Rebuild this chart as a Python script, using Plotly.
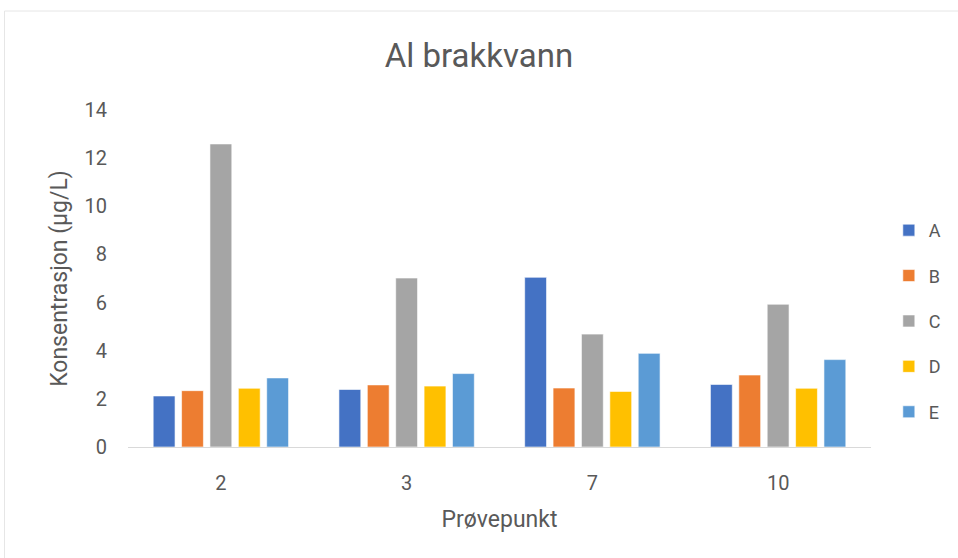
import plotly.graph_objects as go

categories = ["2", "3", "7", "10"]
series_names = ["A", "B", "C", "D", "E"]
A = [2.12, 2.39, 7.05, 2.60]
B = [2.34, 2.58, 2.45, 2.99]
C = [12.59, 7.02, 4.69, 5.93]
D = [2.44, 2.53, 2.31, 2.44]
E = [2.87, 3.05, 3.89, 3.63]
colors = ["#4472C4", "#ED7D31", "#A5A5A5", "#FFC000", "#5B9BD5"]
yticks = [0, 2, 4, 6, 8, 10, 12, 14]

font = "Roboto, Liberation Sans, sans-serif"
fig = go.Figure()
for name, vals, col in zip(series_names, [A, B, C, D, E], colors):
    fig.add_trace(go.Bar(x=categories, y=vals, name=name, legendgroup=name,
                         marker=dict(color=col, line=dict(color="rgba(255,255,255,0.6)", width=1))))

W, H = 958, 558
l, r, t, b = 128, W - 874, 110, H - 447
fig.update_layout(
    width=W, height=H,
    margin=dict(l=l, r=r, t=t, b=b),
    paper_bgcolor="white", plot_bgcolor="white",
    barmode="group", bargap=0.236, bargroupgap=0.23,
    title=dict(text="Al brakkvann", x=0.5, xanchor="center", y=1 - 55 / H, yanchor="middle",
               font=dict(family=font, size=33, color="#595959")),
    font=dict(family=font, color="#595959"),
    xaxis=dict(showline=True, linecolor="#D9D9D9", linewidth=1, showgrid=False,
               tickfont=dict(size=20, color="#595959"), ticks="", ticklabelstandoff=18,
               title=dict(text="Prøvepunkt", font=dict(size=23, color="#595959"), standoff=16)),
    yaxis=dict(range=[0, 14], tickvals=yticks, showgrid=False, zeroline=False,
               tickfont=dict(size=20, color="#595959"), ticks="", ticklabelstandoff=20,
               title=dict(text="Konsentrasjon (µg/L)", font=dict(size=23, color="#595959"), standoff=10)),
    legend=dict(x=1.024, xanchor="left", y=0.374, yanchor="middle", tracegroupgap=19,
                font=dict(size=18, color="#595959"), itemwidth=30, bgcolor="rgba(0,0,0,0)"),
    showlegend=True,
)
pw, ph = W - l - r, H - t - b
fig.add_shape(type="rect", xref="paper", yref="paper",
              x0=(4 - l) / pw, x1=(W + 5 - l) / pw,
              y0=(H - b - (H + 5)) / ph, y1=(H - b - 11) / ph,
              line=dict(color="#E6E6E6", width=1), fillcolor="rgba(0,0,0,0)", layer="below")
fig.write_html("out.html", config={"displayModeBar": False},
               post_script="document.body.style.margin='0';document.documentElement.style.overflow='hidden';")
